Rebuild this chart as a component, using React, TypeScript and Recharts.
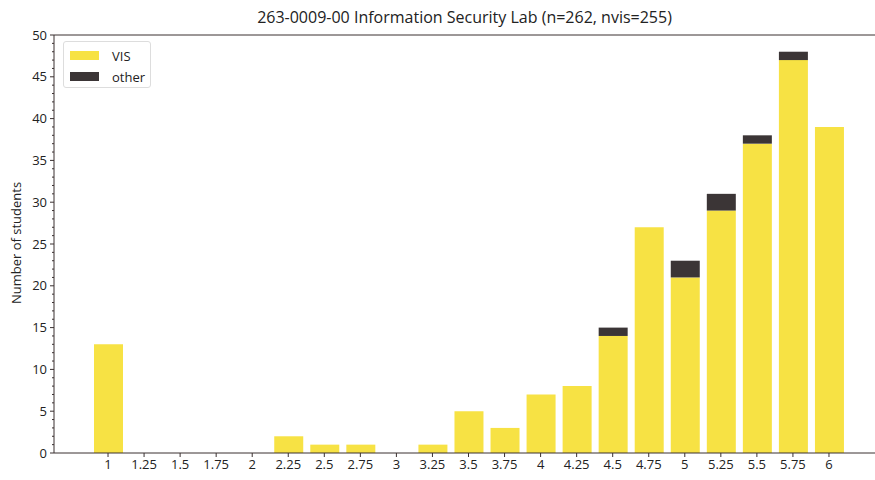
import React from "react";
import { BarChart, Bar, XAxis, YAxis, ReferenceLine } from "recharts";

const grades = ["1", "1.25", "1.5", "1.75", "2", "2.25", "2.5", "2.75", "3", "3.25", "3.5", "3.75", "4", "4.25", "4.5", "4.75", "5", "5.25", "5.5", "5.75", "6"];
const visCounts = [13, 0, 0, 0, 0, 2, 1, 1, 0, 1, 5, 3, 7, 8, 14, 27, 21, 29, 37, 47, 39];
const otherCounts = [0, 0, 0, 0, 0, 0, 0, 0, 0, 0, 0, 0, 0, 0, 1, 0, 2, 2, 1, 1, 0];
const yTicks = Array.from({ length: 51 }, (_, i) => i);
const seriesNames = ["VIS", "other"];

const data = grades.map((g, i) => ({ grade: g, vis: visCounts[i], other: otherCounts[i] }));

const YELLOW = "#f7e244";
const DARK = "#3b3536";
const AXIS = "#3a3030";
const FONT = "'Open Sans', 'Noto Sans', sans-serif";

const YTick = (props: any) => {
  const { x, y, payload } = props;
  const v = payload.value;
  const major = v % 5 === 0;
  return (
    <g>
      <line x1={x - (major ? 4 : 2)} x2={x} y1={y} y2={y} stroke={AXIS} strokeWidth={1} />
      {major && (
        <text x={x - 7} y={y} dy={4.5} textAnchor="end" fontSize={13} fill="#222" fontFamily={FONT}>
          {v}
        </text>
      )}
    </g>
  );
};

export default function App() {
  const colors = [YELLOW, DARK];
  return (
    <div style={{ position: "absolute", left: 0, top: 0, width: 875, height: 480, background: "#fff" }}>
      <BarChart
        width={875}
        height={480}
        data={data}
        margin={{ top: 35, right: 0, left: 0, bottom: 0 }}
        barSize={29}
      >
        <XAxis
          dataKey="grade"
          padding={{ left: 36, right: 28 }}
          height={27}
          tickSize={4}
          tickMargin={3}
          interval={0}
          stroke={AXIS}
          tick={{ fontSize: 13, fill: "#222", fontFamily: FONT }}
          tickLine={{ stroke: AXIS }}
        />
        <YAxis
          width={54}
          domain={[0, 50]}
          ticks={yTicks}
          interval={0}
          tickSize={0}
          tickMargin={0}
          tickLine={false}
          stroke={AXIS}
          tick={<YTick />}
          allowDecimals={false}
        />
        <ReferenceLine y={50} stroke={AXIS} strokeWidth={1} />
        <Bar dataKey="vis" stackId="a" fill={YELLOW} isAnimationActive={false} />
        <Bar dataKey="other" stackId="a" fill={DARK} isAnimationActive={false} />
      </BarChart>
      <div
        style={{
          position: "absolute",
          left: 54,
          width: 821,
          top: 6,
          textAlign: "center",
          fontFamily: FONT,
          fontSize: 16,
          color: "#222",
        }}
      >
        263-0009-00 Information Security Lab (n=262, nvis=255)
      </div>
      <div
        style={{
          position: "absolute",
          left: 16,
          top: 243,
          transform: "translate(-50%, -50%) rotate(-90deg)",
          fontFamily: FONT,
          fontSize: 13,
          color: "#222",
          whiteSpace: "nowrap",
        }}
      >
        Number of students
      </div>
      <div
        style={{
          position: "absolute",
          left: 63,
          top: 41,
          width: 88,
          height: 47,
          border: "1px solid #ddd",
          borderRadius: 3,
          background: "#fff",
          padding: "3px 0 0 6px",
          fontFamily: FONT,
          fontSize: 13,
          color: "#222",
          boxSizing: "border-box",
        }}
      >
        {seriesNames.map((name, i) => (
          <div key={name} style={{ display: "flex", alignItems: "center", height: 21 }}>
            <span style={{ display: "inline-block", width: 29, height: 9, background: colors[i], marginRight: 13 }} />
            <span>{name}</span>
          </div>
        ))}
      </div>
    </div>
  );
}
